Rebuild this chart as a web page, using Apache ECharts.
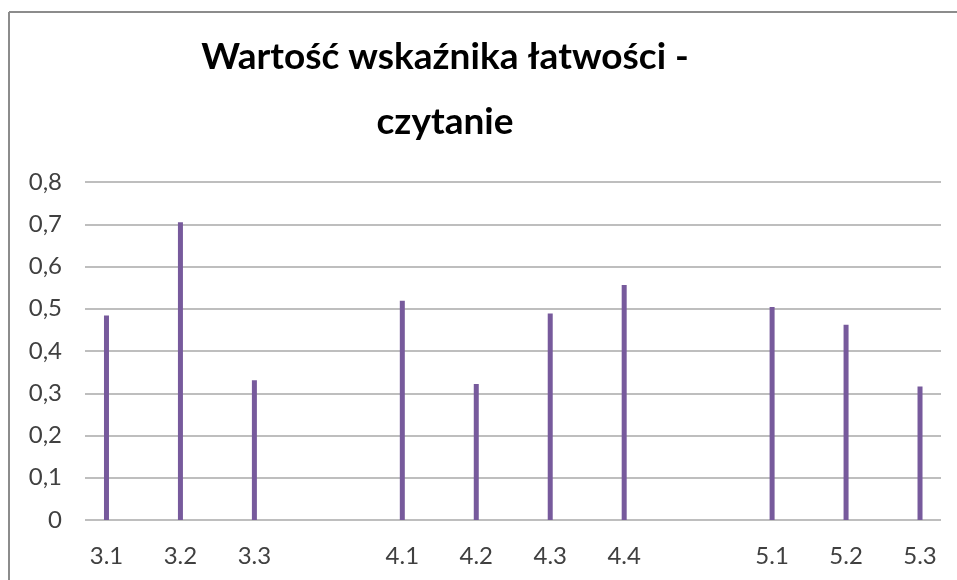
<!DOCTYPE html>
<html>
<head>
<meta charset="utf-8">
<script src="https://cdn.jsdelivr.net/npm/echarts@6/dist/echarts.min.js"></script>
<style>
html,body{margin:0;padding:0;background:#fff;}
#c{width:957px;height:580px;}
</style>
</head>
<body>
<div id="c"></div>
<script>
const titleLines = ['Wartość wskaźnika łatwości -', 'czytanie'];
const categories = ['3.1', '3.2', '3.3', '', '4.1', '4.2', '4.3', '4.4', '', '5.1', '5.2', '5.3'];
const values = [0.484, 0.705, 0.331, null, 0.519, 0.322, 0.489, 0.556, null, 0.504, 0.462, 0.316];
const yMin = 0, yMax = 0.8, yStep = 0.1;

const chart = echarts.init(document.getElementById('c'));
const font = 'Lato, "Open Sans", sans-serif';
chart.setOption({
  animation: false,
  backgroundColor: '#ffffff',
  graphic: [
    { type: 'line', shape: { x1: 9, y1: 12, x2: 957, y2: 12 }, style: { stroke: '#8c8c8c', lineWidth: 2 } },
    { type: 'line', shape: { x1: 9, y1: 12, x2: 9, y2: 580 }, style: { stroke: '#8c8c8c', lineWidth: 2 } },
    { type: 'text', x: 445, y: 25, style: { text: titleLines.join('\n'), font: 'bold 37px ' + font, fill: '#000', align: 'center', verticalAlign: 'top', lineHeight: 65 } }
  ],
  grid: [
    { left: 85, right: 16, top: 182, bottom: 60 },
    { left: 69.5, width: 893, top: 182, bottom: 60 }
  ],
  xAxis: [
    { type: 'value', gridIndex: 0, min: 0, max: 1, show: false },
    { type: 'category', gridIndex: 1, data: categories,
      axisLine: { show: false }, axisTick: { show: false },
      axisLabel: { fontFamily: font, fontSize: 24, color: '#404040', margin: 24, interval: 0 } }
  ],
  yAxis: [
    { type: 'value', gridIndex: 0, min: yMin, max: yMax, interval: yStep,
      axisLine: { show: false }, axisTick: { show: false },
      axisLabel: { fontFamily: font, fontSize: 24, color: '#404040', margin: 23,
        formatter: v => (Math.round(v * 10) / 10).toString().replace('.', ',') },
      splitLine: { lineStyle: { color: '#a8a8a8', width: 1.5 } } },
    { type: 'value', gridIndex: 1, min: yMin, max: yMax, interval: yStep, show: false }
  ],
  series: [
    { type: 'bar', xAxisIndex: 1, yAxisIndex: 1, data: values, barWidth: 5,
      itemStyle: { color: '#775a9c' } }
  ]
});
</script>
</body>
</html>
